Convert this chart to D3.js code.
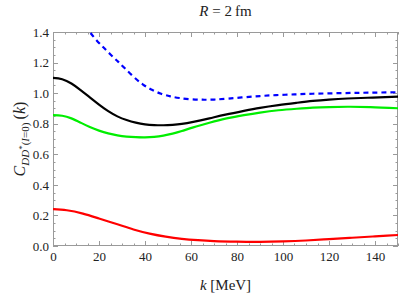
<!DOCTYPE html>
<html><head><meta charset="utf-8">
<script src="https://cdn.jsdelivr.net/npm/d3@7"></script>
<style>body{margin:0;background:#fff}svg{display:block}svg text{font-family:"Liberation Serif","DejaVu Serif",serif}</style>
</head><body>
<svg id="c" width="400" height="300"></svg>
<script>
const xTicks = [0,20,40,60,80,100,120,140];
const yTicks = [0.0,0.2,0.4,0.6,0.8,1.0,1.2,1.4];
const blueK = [14,16,19,22,25,28,31,35,39,43,47,51,55,60,65,70,76,83,90,97,105,113,125,137,150];
const blueV = [1.44,1.40,1.345,1.298,1.253,1.21,1.166,1.108,1.058,1.022,0.996,0.979,0.968,0.960,0.957,0.958,0.964,0.973,0.981,0.987,0.992,0.996,1.0,1.003,1.006];
const blackK = [0,4,8,12,16,20,24,28,32,36,40,44,48,52,56,61,68,75,83,90,98,106,113,120,128,139,150];
const blackV = [1.10,1.091,1.063,1.020,0.972,0.925,0.882,0.848,0.824,0.807,0.796,0.791,0.790,0.793,0.799,0.812,0.835,0.859,0.884,0.904,0.922,0.937,0.949,0.958,0.965,0.971,0.977];
const greenK = [0,4,8,12,16,20,24,28,32,36,40,44,48,52,56,61,68,75,83,90,98,106,113,120,128,138,150];
const greenV = [0.856,0.852,0.835,0.807,0.778,0.755,0.737,0.724,0.716,0.712,0.711,0.714,0.722,0.735,0.752,0.776,0.806,0.833,0.856,0.873,0.888,0.898,0.905,0.909,0.911,0.909,0.901];
const redK = [0,6,13,20,28,35,42,49,56,63,70,80,90,100,110,120,130,140,150];
const redV = [0.241,0.234,0.212,0.18,0.142,0.108,0.081,0.061,0.047,0.038,0.032,0.028,0.027,0.030,0.036,0.045,0.054,0.063,0.072];

const svg = d3.select("#c");
const L=53, R=398, T=32, B=246;
const x = d3.scaleLinear().domain([0,150]).range([L,R]);
const y = d3.scaleLinear().domain([0,1.4]).range([B,T]);
const font = "'Liberation Serif', 'DejaVu Serif', serif";
const txt = "#222";

svg.append("clipPath").attr("id","clip").append("rect")
  .attr("x",L).attr("y",T).attr("width",R-L).attr("height",B-T);

const gray="#9a9a9a";
svg.append("rect").attr("x",L+0.5).attr("y",T+0.5).attr("width",R-L-1).attr("height",B-T-1)
  .attr("fill","none").attr("stroke",gray).attr("stroke-width",1);

const tickG = svg.append("g").attr("stroke",gray).attr("stroke-width",1);
d3.range(0,151,5).forEach(v=>{
  const major = v%20===0; const len = major?5:2.5; const px = Math.round(x(v))+0.5;
  tickG.append("line").attr("x1",px).attr("x2",px).attr("y1",B).attr("y2",B-len);
  tickG.append("line").attr("x1",px).attr("x2",px).attr("y1",T).attr("y2",T+len);
});
d3.range(0,29).forEach(i=>{
  const v=i*0.05; const major = i%4===0; const len = major?5:2.5; const py = Math.round(y(v))+0.5;
  tickG.append("line").attr("x1",L).attr("x2",L+len).attr("y1",py).attr("y2",py);
  tickG.append("line").attr("x1",R).attr("x2",R-len).attr("y1",py).attr("y2",py);
});

const xAxis = d3.axisBottom(x).tickValues(xTicks).tickSize(0).tickPadding(6).tickFormat(d3.format("d"));
const gx = svg.append("g").attr("transform",`translate(0,${B})`).call(xAxis);
gx.select(".domain").remove();
gx.attr("font-family",font).attr("font-size",13);
gx.selectAll("text").attr("fill",txt);

const yAxis = d3.axisLeft(y).tickValues(yTicks).tickSize(0).tickPadding(4).tickFormat(d3.format(".1f"));
const gy = svg.append("g").attr("transform",`translate(${L},0)`).call(yAxis);
gy.select(".domain").remove();
gy.attr("font-family",font).attr("font-size",13);
gy.selectAll("text").attr("fill",txt);

const line = d3.line().x(d=>x(d[0])).y(d=>y(d[1])).curve(d3.curveNatural);
const plot = svg.append("g").attr("clip-path","url(#clip)");
function draw(ks,vs,color,dash){
  const p = plot.append("path").datum(ks.map((k,i)=>[k,vs[i]]))
    .attr("d",line).attr("fill","none").attr("stroke",color).attr("stroke-width",2.2);
  if(dash) p.attr("stroke-dasharray",dash);
}
draw(redK,redV,"#ff0000");
draw(greenK,greenV,"#00ee00");
draw(blackK,blackV,"#000000");
draw(blueK,blueV,"#0000ff","5,4");

const title = svg.append("text").attr("x",(L+R)/2).attr("y",16).attr("text-anchor","middle")
  .attr("font-size",15).attr("fill",txt);
title.append("tspan").attr("font-style","italic").text("R");
title.append("tspan").text(" = 2\u2009fm");

const xl = svg.append("text").attr("x",(L+R)/2).attr("y",290).attr("text-anchor","middle")
  .attr("font-size",15).attr("fill",txt);
xl.append("tspan").attr("font-style","italic").text("k");
xl.append("tspan").text(" [MeV]");

const yl = svg.append("text").attr("transform",`translate(25,${(T+B)/2}) rotate(-90)`)
  .attr("text-anchor","middle").attr("font-size",16).attr("fill",txt);
yl.append("tspan").attr("font-style","italic").text("C");
const sub = yl.append("tspan").attr("font-size",11).attr("dy",4);
sub.append("tspan").attr("font-style","italic").text("DD");
sub.append("tspan").attr("dy",-4).attr("font-size",9).text("*");
sub.append("tspan").attr("dy",4).text("(");
sub.append("tspan").attr("font-style","italic").text("I");
sub.append("tspan").text("=0)");
const rest = yl.append("tspan").attr("dy",-4);
rest.append("tspan").text("\u2009(");
rest.append("tspan").attr("font-style","italic").text("k");
rest.append("tspan").text(")");
</script>
</body></html>
